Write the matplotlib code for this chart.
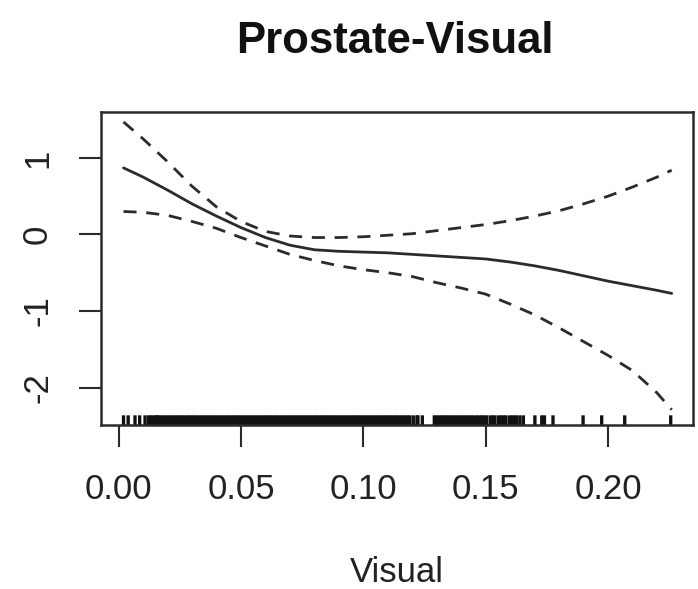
import matplotlib
matplotlib.use("Agg")
import matplotlib.pyplot as plt

plt.rcParams['font.family'] = ['Liberation Sans', 'DejaVu Sans']
plt.rcParams['lines.scale_dashes'] = False

# Smooth term estimate and its confidence band
visual = [0.002, 0.010, 0.020, 0.030, 0.040, 0.050, 0.060, 0.070, 0.080, 0.090,
          0.100, 0.110, 0.120, 0.130, 0.140, 0.150, 0.160, 0.170, 0.180, 0.190,
          0.200, 0.210, 0.220, 0.226]
fit = [0.87, 0.75, 0.58, 0.40, 0.24, 0.09, -0.04, -0.14, -0.20, -0.22,
       -0.23, -0.24, -0.26, -0.28, -0.30, -0.32, -0.36, -0.41, -0.47, -0.54,
       -0.61, -0.67, -0.73, -0.77]
upper = [1.47, 1.25, 0.95, 0.63, 0.36, 0.17, 0.04, -0.02, -0.04, -0.04,
         -0.03, -0.01, 0.01, 0.05, 0.09, 0.13, 0.18, 0.24, 0.31, 0.40,
         0.50, 0.62, 0.75, 0.84]
lower = [0.30, 0.29, 0.25, 0.17, 0.08, -0.04, -0.15, -0.26, -0.34, -0.41,
         -0.46, -0.50, -0.55, -0.63, -0.70, -0.78, -0.91, -1.05, -1.22, -1.40,
         -1.58, -1.78, -2.07, -2.29]

# Observed values of the covariate (rug)
rug = [0.0020, 0.0039, 0.0067, 0.0086, 0.0108, 0.0122, 0.0131, 0.0140, 0.0150, 0.0157,
       0.016, 0.017, 0.018, 0.019, 0.020, 0.021, 0.022, 0.023, 0.024, 0.025,
       0.026, 0.027, 0.028, 0.029, 0.030, 0.031, 0.032, 0.033, 0.034, 0.035,
       0.036, 0.037, 0.038, 0.039, 0.040, 0.041, 0.042, 0.043, 0.044, 0.045,
       0.046, 0.047, 0.048, 0.049, 0.050, 0.051, 0.052, 0.053, 0.054, 0.055,
       0.056, 0.057, 0.058, 0.059, 0.060, 0.061, 0.062, 0.063, 0.064, 0.065,
       0.066, 0.067, 0.068, 0.069, 0.070, 0.071, 0.072, 0.073, 0.074, 0.075,
       0.076, 0.077, 0.078, 0.079, 0.080, 0.081, 0.082, 0.083, 0.084, 0.085,
       0.086, 0.087, 0.088, 0.089, 0.090, 0.091, 0.092, 0.093, 0.094, 0.095,
       0.096, 0.097, 0.098, 0.099, 0.100, 0.101, 0.102, 0.103, 0.104, 0.105,
       0.106, 0.107, 0.108, 0.109, 0.110, 0.111, 0.112, 0.113, 0.114, 0.115,
       0.116, 0.117, 0.118, 0.119,
       0.1204, 0.1219, 0.1223, 0.1241,
       0.129, 0.130, 0.131, 0.132, 0.133, 0.134, 0.135, 0.136, 0.137, 0.138,
       0.139, 0.140, 0.141, 0.142, 0.143, 0.144, 0.145,
       0.1463, 0.1473, 0.1483, 0.1493, 0.1503, 0.1518, 0.1528, 0.1538, 0.1553,
       0.1563, 0.1573, 0.1583, 0.1598, 0.1608, 0.1618, 0.1627,
       0.1640, 0.1654, 0.1701, 0.1729, 0.1740, 0.1775, 0.1898, 0.1974, 0.2068, 0.2256]

x_ticks = [0.00, 0.05, 0.10, 0.15, 0.20]
x_ticklabels = ["0.00", "0.05", "0.10", "0.15", "0.20"]
y_ticks = [-2, -1, 0, 1]
y_ticklabels = ["-2", "-1", "0", "1"]

ink = '#2b2b2b'
txt = '#222222'

fig = plt.figure(figsize=(6.98, 5.89), dpi=100)
ax = fig.add_axes([0.1447, 0.2784, 0.8481, 0.5314])

ax.plot(visual, fit, color=ink, lw=2.0, solid_capstyle='round')
ax.plot(visual, upper, color=ink, lw=2.0, linestyle=(0, (9.4, 7.0)))
ax.plot(visual, lower, color=ink, lw=2.0, linestyle=(0, (9.4, 7.0)))

ax.vlines(rug, 0, 0.031, transform=ax.get_xaxis_transform(), color='#111111',
          lw=2.4, snap=False)

ax.set_xlim(-0.0072, 0.2347)
ax.set_ylim(-2.49, 1.60)

ax.set_xticks(x_ticks)
ax.set_xticklabels(x_ticklabels)
ax.set_yticks(y_ticks)
ax.set_yticklabels(y_ticklabels, rotation=90, va='center')

ax.tick_params(axis='both', length=15.8, width=1.5, colors=ink, labelcolor=txt,
               labelsize=25)
ax.tick_params(axis='x', pad=19)
ax.tick_params(axis='y', pad=18)

for s in ax.spines.values():
    s.set_color(ink)
    s.set_linewidth(1.8)

ax.set_xlabel("Visual", fontsize=25, color=txt, labelpad=36)
fig.text(0.566, 0.929, "Prostate-Visual", fontsize=31.5, fontweight='bold',
         color='#111111', ha='center', va='center')

fig.savefig("out.png", dpi=100)
